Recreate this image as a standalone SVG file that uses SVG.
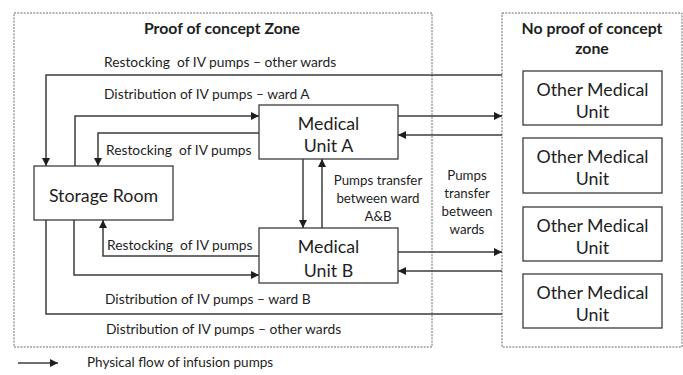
<svg xmlns="http://www.w3.org/2000/svg" width="683" height="375" viewBox="0 0 683 375">
<style>
.zone{fill:none;stroke:#6a6a6a;stroke-width:1;stroke-dasharray:2 1.2}
.box{fill:#fff;stroke:#3c3c3c;stroke-width:1.3}
.ln{fill:none;stroke:#3c3c3c;stroke-width:1.5}
.arr{marker-end:url(#ah)}
text{font-family:Lato,"Liberation Sans",sans-serif;fill:#1e1e1e}
.t{font-size:13.8px}
.b{font-size:17.8px;text-anchor:middle}
.h{font-size:15.8px;font-weight:bold;text-anchor:middle}
.s{font-size:13.3px;text-anchor:middle}
</style>
<defs>
<marker id="ah" markerUnits="userSpaceOnUse" markerWidth="9" markerHeight="9" refX="8" refY="4" orient="auto">
<path d="M0,0 L8,4 L0,8 z" fill="#1e1e1e"/>
</marker>
</defs>
<g id="zone-poc">
<rect class="zone" x="14" y="13" width="418" height="334"/>
<text class="h" x="222" y="34">Proof of concept Zone</text>
</g>
<g id="zone-nopoc">
<rect class="zone" x="502" y="13" width="180" height="334"/>
<text class="h" x="592" y="34">No proof of concept</text>
<text class="h" x="592" y="54">zone</text>
</g>
<g id="connectors">
<path class="ln arr" d="M502,75 H46 V166"/>
<path class="ln arr" d="M75,166 V116 H259"/>
<path class="ln arr" d="M259,133 H98 V166"/>
<path class="ln arr" d="M303,159 V228"/>
<path class="ln arr" d="M322,228 V159"/>
<path class="ln arr" d="M398,116 H502"/>
<path class="ln arr" d="M502,135 H398"/>
<path class="ln arr" d="M398,252 H502"/>
<path class="ln arr" d="M502,271 H398"/>
<path class="ln arr" d="M259,256 H103 V220"/>
<path class="ln arr" d="M74,220 V275 H259"/>
<path class="ln" d="M46,220 V314 H502"/>
<text class="t" x="104" y="67" xml:space="preserve">Restocking  of IV pumps – other wards</text>
<text class="t" x="104" y="99">Distribution of IV pumps – ward A</text>
<text class="t" x="106" y="155" xml:space="preserve">Restocking  of IV pumps</text>
<text class="t" x="107" y="250" xml:space="preserve">Restocking  of IV pumps</text>
<text class="t" x="105" y="304">Distribution of IV pumps – ward B</text>
<text class="t" x="106" y="334">Distribution of IV pumps – other wards</text>
<text class="s" x="378" y="185">Pumps transfer</text>
<text class="s" x="378" y="203">between ward</text>
<text class="s" x="378" y="221">A&amp;B</text>
<text class="s" x="467" y="180">Pumps</text>
<text class="s" x="467" y="198">transfer</text>
<text class="s" x="467" y="216">between</text>
<text class="s" x="467" y="234">wards</text>
</g>
<g id="storage-room">
<rect class="box" x="34" y="166" width="139" height="54"/>
<text class="b" x="103.5" y="202">Storage Room</text>
</g>
<g id="medical-unit-a">
<rect class="box" x="259" y="105" width="139" height="54"/>
<text class="b" x="328.5" y="130">Medical</text>
<text class="b" x="328.5" y="152">Unit A</text>
</g>
<g id="medical-unit-b">
<rect class="box" x="259" y="228" width="139" height="55"/>
<text class="b" x="328.5" y="253">Medical</text>
<text class="b" x="328.5" y="277">Unit B</text>
</g>
<g id="other-unit-1">
<rect class="box" x="523" y="71" width="139" height="54"/>
<text class="b" x="592.5" y="96">Other Medical</text>
<text class="b" x="592.5" y="118">Unit</text>
</g>
<g id="other-unit-2">
<rect class="box" x="523" y="138" width="139" height="55"/>
<text class="b" x="592.5" y="163">Other Medical</text>
<text class="b" x="592.5" y="185">Unit</text>
</g>
<g id="other-unit-3">
<rect class="box" x="523" y="207" width="139" height="54"/>
<text class="b" x="592.5" y="232">Other Medical</text>
<text class="b" x="592.5" y="254">Unit</text>
</g>
<g id="other-unit-4">
<rect class="box" x="523" y="274" width="139" height="54"/>
<text class="b" x="592.5" y="299">Other Medical</text>
<text class="b" x="592.5" y="321">Unit</text>
</g>
<g id="legend">
<path class="ln arr" d="M18,363 H58"/>
<text class="t" x="87" y="367" style="font-size:13.5px">Physical flow of infusion pumps</text>
</g>
</svg>
